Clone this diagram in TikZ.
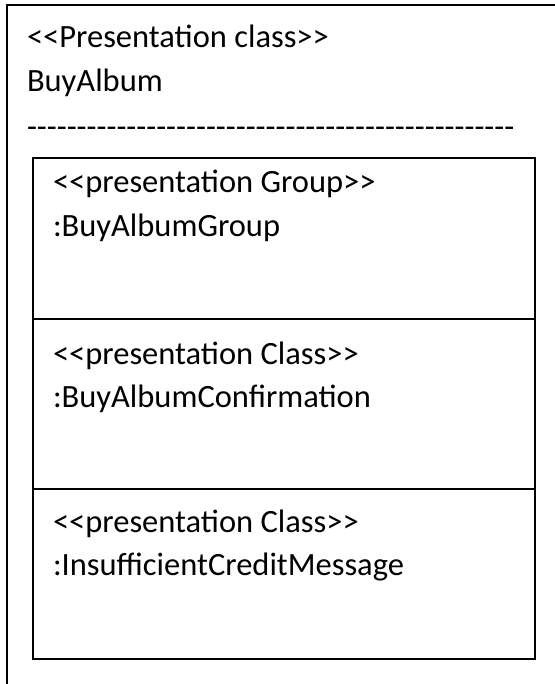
\documentclass[tikz,border=0pt]{standalone}
\usepackage{fontspec}
\setmainfont{Carlito}
\newcommand{\hyph}{-\kern0pt}
\newcommand{\hyphten}{\hyph\hyph\hyph\hyph\hyph\hyph\hyph\hyph\hyph\hyph}
\begin{document}
\begin{tikzpicture}[x=1bp,y=-1bp,
  frame/.style={line width=2.4bp, line cap=rect},
  lbl/.style={anchor=base west, inner sep=0pt, outer sep=0pt, font=\fontsize{32.5bp}{39bp}\selectfont}]
\useasboundingbox (0,0) rectangle (555,684);
% outer (cropped) frame
\coordinate (otl) at (7,5);
\coordinate (otr) at (556,5);
\coordinate (obl) at (7,685);
\draw[frame] (otr) -- (otl) -- (obl);
\node[lbl] (stereo) at (27,48) {<{}<Presentation class>{}>};
\node[lbl] (name) at (27,92) {BuyAlbum};
\node[lbl] (dashes) at (27,137) {\hyphten\hyphten\hyphten\hyphten\hyph\hyph\hyph\hyph\hyph\hyph\hyph\hyph\hyph};
% inner box with compartments
\coordinate (itl) at (33,158);
\coordinate (ibr) at (535,659);
\coordinate (d1l) at (33,319);
\coordinate (d1r) at (535,319);
\coordinate (d2l) at (33,489);
\coordinate (d2r) at (535,489);
\draw[frame] (itl) rectangle (ibr);
\draw[frame] (d1l) -- (d1r);
\draw[frame] (d2l) -- (d2r);
\node[lbl] (g1) at (53,192) {<{}<presentation Group>{}>};
\node[lbl] (g2) at (53,236) {:BuyAlbumGroup};
\node[lbl] (c1) at (53,364) {<{}<presentation Class>{}>};
\node[lbl] (c2) at (53,407) {:BuyAlbumConfirmation};
\node[lbl] (m1) at (53,532) {<{}<presentation Class>{}>};
\node[lbl] (m2) at (53,575) {:InsufficientCreditMessage};
\end{tikzpicture}
\end{document}
